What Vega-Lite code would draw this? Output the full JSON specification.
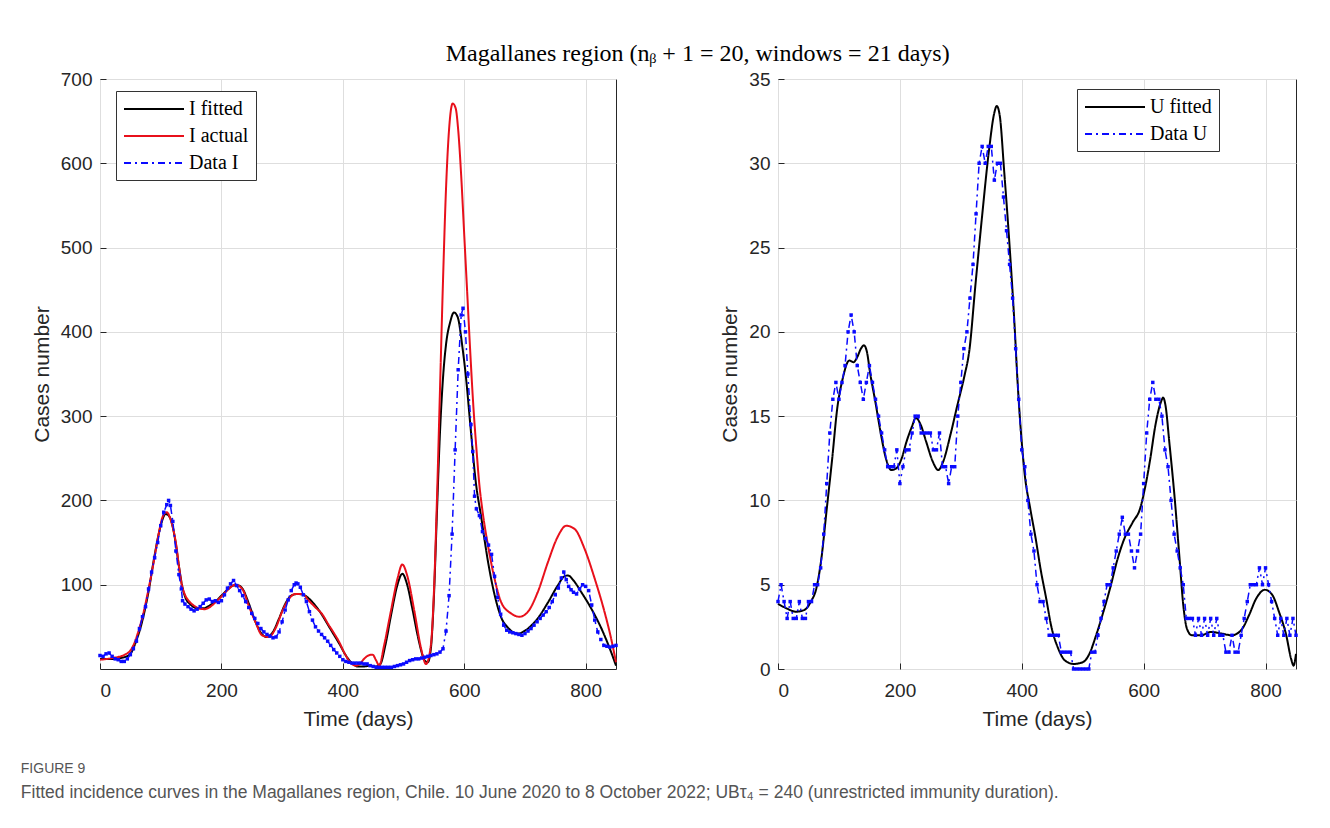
{
"$schema":"https://vega.github.io/schema/vega-lite/v6.json",
"background":"white",
"padding":{"left":20,"top":41,"right":10,"bottom":10},
"config":{
 "view":{"stroke":"#262626","strokeWidth":1},
 "axis":{"labelFont":"Liberation Sans","labelFontSize":19,"labelColor":"#262626","titleFont":"Liberation Sans","titleFontSize":21,"titleFontWeight":"normal","titleColor":"#262626","gridColor":"#dedede","gridWidth":1,"domain":false,"ticks":true,"tickSize":-6,"tickColor":"#262626"},
 "axisX":{"labelPadding":18,"titlePadding":8},
 "axisY":{"labelPadding":14,"titlePadding":8},
 "legend":{"symbolType":"M-1,0H5","symbolSize":400,"symbolStrokeWidth":2,"labelFont":"Liberation Serif","labelFontSize":20,"labelColor":"#000000","strokeColor":"#333333","fillColor":"#ffffff","padding":7,"rowPadding":6,"labelOffset":44}
},
"title":{"text":"FIGURE 9","subtitle":"Fitted incidence curves in the Magallanes region, Chile. 10 June 2020 to 8 October 2022; UBτ₄ = 240 (unrestricted immunity duration).","orient":"bottom","anchor":"start","frame":"bounds","dx":-10,"offset":32,"font":"Liberation Sans","fontSize":14,"fontWeight":"normal","color":"#555555","subtitleFont":"Liberation Sans","subtitleFontSize":17.5,"subtitleColor":"#555555","subtitlePadding":8},
"datasets":{
"left":[
{"s":"I fitted","d":0,"v":12},{"s":"I fitted","d":20,"v":12},{"s":"I fitted","d":40,"v":14},{"s":"I fitted","d":50,"v":18},{"s":"I fitted","d":60,"v":34},{"s":"I fitted","d":70,"v":58},{"s":"I fitted","d":80,"v":92},{"s":"I fitted","d":90,"v":135},{"s":"I fitted","d":100,"v":170},{"s":"I fitted","d":108,"v":184},{"s":"I fitted","d":115,"v":180},{"s":"I fitted","d":120,"v":168},{"s":"I fitted","d":125,"v":148},{"s":"I fitted","d":130,"v":122},{"s":"I fitted","d":135,"v":100},{"s":"I fitted","d":140,"v":86},{"s":"I fitted","d":150,"v":76},{"s":"I fitted","d":160,"v":72},{"s":"I fitted","d":170,"v":72},{"s":"I fitted","d":180,"v":75},{"s":"I fitted","d":190,"v":80},{"s":"I fitted","d":200,"v":87},{"s":"I fitted","d":210,"v":94},{"s":"I fitted","d":220,"v":99},{"s":"I fitted","d":228,"v":99},{"s":"I fitted","d":235,"v":95},{"s":"I fitted","d":245,"v":78},{"s":"I fitted","d":255,"v":58},{"s":"I fitted","d":265,"v":43},{"s":"I fitted","d":275,"v":38},{"s":"I fitted","d":285,"v":44},{"s":"I fitted","d":295,"v":60},{"s":"I fitted","d":305,"v":77},{"s":"I fitted","d":315,"v":87},{"s":"I fitted","d":325,"v":89},{"s":"I fitted","d":335,"v":88},{"s":"I fitted","d":345,"v":83},{"s":"I fitted","d":355,"v":75},{"s":"I fitted","d":365,"v":65},{"s":"I fitted","d":375,"v":53},{"s":"I fitted","d":385,"v":41},{"s":"I fitted","d":395,"v":29},{"s":"I fitted","d":405,"v":16},{"s":"I fitted","d":415,"v":7},{"s":"I fitted","d":425,"v":3},{"s":"I fitted","d":435,"v":3},{"s":"I fitted","d":445,"v":4},{"s":"I fitted","d":455,"v":3},{"s":"I fitted","d":462,"v":6},{"s":"I fitted","d":470,"v":28},{"s":"I fitted","d":480,"v":66},{"s":"I fitted","d":490,"v":100},{"s":"I fitted","d":498,"v":113},{"s":"I fitted","d":506,"v":100},{"s":"I fitted","d":515,"v":70},{"s":"I fitted","d":525,"v":34},{"s":"I fitted","d":535,"v":10},{"s":"I fitted","d":540,"v":8},{"s":"I fitted","d":545,"v":24},{"s":"I fitted","d":550,"v":85},{"s":"I fitted","d":555,"v":185},{"s":"I fitted","d":560,"v":280},{"s":"I fitted","d":565,"v":345},{"s":"I fitted","d":570,"v":385},{"s":"I fitted","d":577,"v":412},{"s":"I fitted","d":583,"v":423},{"s":"I fitted","d":589,"v":418},{"s":"I fitted","d":597,"v":382},{"s":"I fitted","d":603,"v":345},{"s":"I fitted","d":610,"v":290},{"s":"I fitted","d":619,"v":222},{"s":"I fitted","d":628,"v":180},{"s":"I fitted","d":639,"v":128},{"s":"I fitted","d":650,"v":88},{"s":"I fitted","d":661,"v":61},{"s":"I fitted","d":672,"v":49},{"s":"I fitted","d":688,"v":42},{"s":"I fitted","d":705,"v":48},{"s":"I fitted","d":721,"v":60},{"s":"I fitted","d":738,"v":79},{"s":"I fitted","d":754,"v":99},{"s":"I fitted","d":765,"v":110},{"s":"I fitted","d":771,"v":111},{"s":"I fitted","d":780,"v":105},{"s":"I fitted","d":793,"v":91},{"s":"I fitted","d":809,"v":72},{"s":"I fitted","d":826,"v":48},{"s":"I fitted","d":842,"v":20},{"s":"I fitted","d":850,"v":4},
{"s":"I actual","d":0,"v":11},{"s":"I actual","d":20,"v":13},{"s":"I actual","d":41,"v":17},{"s":"I actual","d":52,"v":24},{"s":"I actual","d":63,"v":44},{"s":"I actual","d":72,"v":68},{"s":"I actual","d":80,"v":95},{"s":"I actual","d":88,"v":125},{"s":"I actual","d":96,"v":158},{"s":"I actual","d":104,"v":182},{"s":"I actual","d":110,"v":186},{"s":"I actual","d":116,"v":178},{"s":"I actual","d":121,"v":165},{"s":"I actual","d":126,"v":145},{"s":"I actual","d":130,"v":122},{"s":"I actual","d":135,"v":99},{"s":"I actual","d":140,"v":88},{"s":"I actual","d":146,"v":81},{"s":"I actual","d":155,"v":75},{"s":"I actual","d":163,"v":72},{"s":"I actual","d":172,"v":71},{"s":"I actual","d":180,"v":73},{"s":"I actual","d":190,"v":79},{"s":"I actual","d":200,"v":86},{"s":"I actual","d":212,"v":95},{"s":"I actual","d":223,"v":100},{"s":"I actual","d":230,"v":98},{"s":"I actual","d":236,"v":93},{"s":"I actual","d":245,"v":75},{"s":"I actual","d":256,"v":56},{"s":"I actual","d":267,"v":40},{"s":"I actual","d":278,"v":38},{"s":"I actual","d":289,"v":48},{"s":"I actual","d":300,"v":68},{"s":"I actual","d":311,"v":83},{"s":"I actual","d":322,"v":89},{"s":"I actual","d":333,"v":89},{"s":"I actual","d":344,"v":81},{"s":"I actual","d":355,"v":73},{"s":"I actual","d":366,"v":65},{"s":"I actual","d":377,"v":52},{"s":"I actual","d":385,"v":43},{"s":"I actual","d":394,"v":32},{"s":"I actual","d":402,"v":20},{"s":"I actual","d":410,"v":10},{"s":"I actual","d":421,"v":4},{"s":"I actual","d":428,"v":6},{"s":"I actual","d":435,"v":12},{"s":"I actual","d":442,"v":16},{"s":"I actual","d":449,"v":17},{"s":"I actual","d":455,"v":10},{"s":"I actual","d":460,"v":4},{"s":"I actual","d":468,"v":28},{"s":"I actual","d":479,"v":68},{"s":"I actual","d":490,"v":107},{"s":"I actual","d":498,"v":124},{"s":"I actual","d":506,"v":111},{"s":"I actual","d":518,"v":68},{"s":"I actual","d":529,"v":24},{"s":"I actual","d":537,"v":6},{"s":"I actual","d":545,"v":28},{"s":"I actual","d":550,"v":90},{"s":"I actual","d":555,"v":200},{"s":"I actual","d":560,"v":330},{"s":"I actual","d":565,"v":460},{"s":"I actual","d":570,"v":570},{"s":"I actual","d":575,"v":640},{"s":"I actual","d":581,"v":671},{"s":"I actual","d":586,"v":665},{"s":"I actual","d":590,"v":640},{"s":"I actual","d":595,"v":585},{"s":"I actual","d":600,"v":515},{"s":"I actual","d":605,"v":445},{"s":"I actual","d":610,"v":375},{"s":"I actual","d":615,"v":312},{"s":"I actual","d":620,"v":262},{"s":"I actual","d":625,"v":218},{"s":"I actual","d":630,"v":188},{"s":"I actual","d":639,"v":147},{"s":"I actual","d":650,"v":107},{"s":"I actual","d":661,"v":79},{"s":"I actual","d":677,"v":66},{"s":"I actual","d":691,"v":62},{"s":"I actual","d":705,"v":68},{"s":"I actual","d":721,"v":91},{"s":"I actual","d":738,"v":127},{"s":"I actual","d":754,"v":157},{"s":"I actual","d":768,"v":170},{"s":"I actual","d":782,"v":166},{"s":"I actual","d":798,"v":143},{"s":"I actual","d":815,"v":107},{"s":"I actual","d":831,"v":68},{"s":"I actual","d":842,"v":36},{"s":"I actual","d":850,"v":8},
{"s":"Data I","d":0,"v":16},{"s":"Data I","d":5,"v":15},{"s":"Data I","d":10,"v":18},{"s":"Data I","d":15,"v":19},{"s":"Data I","d":20,"v":15},{"s":"Data I","d":25,"v":12},{"s":"Data I","d":30,"v":11},{"s":"Data I","d":35,"v":9},{"s":"Data I","d":40,"v":9},{"s":"Data I","d":45,"v":12},{"s":"Data I","d":50,"v":17},{"s":"Data I","d":55,"v":24},{"s":"Data I","d":60,"v":33},{"s":"Data I","d":65,"v":48},{"s":"Data I","d":70,"v":62},{"s":"Data I","d":75,"v":74},{"s":"Data I","d":80,"v":95},{"s":"Data I","d":85,"v":115},{"s":"Data I","d":90,"v":132},{"s":"Data I","d":95,"v":150},{"s":"Data I","d":100,"v":170},{"s":"Data I","d":105,"v":186},{"s":"Data I","d":110,"v":195},{"s":"Data I","d":113,"v":200},{"s":"Data I","d":116,"v":194},{"s":"Data I","d":120,"v":175},{"s":"Data I","d":125,"v":140},{"s":"Data I","d":130,"v":112},{"s":"Data I","d":134,"v":95},{"s":"Data I","d":136,"v":81},{"s":"Data I","d":140,"v":77},{"s":"Data I","d":145,"v":74},{"s":"Data I","d":150,"v":71},{"s":"Data I","d":155,"v":69},{"s":"Data I","d":160,"v":71},{"s":"Data I","d":165,"v":74},{"s":"Data I","d":170,"v":78},{"s":"Data I","d":175,"v":82},{"s":"Data I","d":180,"v":83},{"s":"Data I","d":185,"v":80},{"s":"Data I","d":190,"v":81},{"s":"Data I","d":195,"v":79},{"s":"Data I","d":200,"v":81},{"s":"Data I","d":205,"v":88},{"s":"Data I","d":210,"v":96},{"s":"Data I","d":215,"v":101},{"s":"Data I","d":220,"v":105},{"s":"Data I","d":225,"v":99},{"s":"Data I","d":230,"v":93},{"s":"Data I","d":235,"v":87},{"s":"Data I","d":240,"v":80},{"s":"Data I","d":245,"v":73},{"s":"Data I","d":250,"v":66},{"s":"Data I","d":255,"v":60},{"s":"Data I","d":260,"v":54},{"s":"Data I","d":265,"v":48},{"s":"Data I","d":270,"v":44},{"s":"Data I","d":275,"v":41},{"s":"Data I","d":280,"v":39},{"s":"Data I","d":285,"v":37},{"s":"Data I","d":290,"v":38},{"s":"Data I","d":295,"v":44},{"s":"Data I","d":300,"v":56},{"s":"Data I","d":305,"v":70},{"s":"Data I","d":310,"v":82},{"s":"Data I","d":315,"v":93},{"s":"Data I","d":320,"v":100},{"s":"Data I","d":323,"v":102},{"s":"Data I","d":326,"v":101},{"s":"Data I","d":330,"v":97},{"s":"Data I","d":335,"v":88},{"s":"Data I","d":340,"v":80},{"s":"Data I","d":345,"v":68},{"s":"Data I","d":350,"v":58},{"s":"Data I","d":355,"v":50},{"s":"Data I","d":360,"v":45},{"s":"Data I","d":365,"v":41},{"s":"Data I","d":370,"v":37},{"s":"Data I","d":375,"v":33},{"s":"Data I","d":380,"v":28},{"s":"Data I","d":385,"v":23},{"s":"Data I","d":390,"v":19},{"s":"Data I","d":395,"v":15},{"s":"Data I","d":400,"v":11},{"s":"Data I","d":405,"v":9},{"s":"Data I","d":410,"v":8},{"s":"Data I","d":415,"v":7},{"s":"Data I","d":420,"v":7},{"s":"Data I","d":425,"v":7},{"s":"Data I","d":430,"v":7},{"s":"Data I","d":435,"v":6},{"s":"Data I","d":440,"v":6},{"s":"Data I","d":445,"v":4},{"s":"Data I","d":450,"v":3},{"s":"Data I","d":455,"v":2},{"s":"Data I","d":460,"v":2},{"s":"Data I","d":465,"v":2},{"s":"Data I","d":470,"v":2},{"s":"Data I","d":475,"v":2},{"s":"Data I","d":480,"v":2},{"s":"Data I","d":485,"v":3},{"s":"Data I","d":490,"v":4},{"s":"Data I","d":495,"v":5},{"s":"Data I","d":500,"v":6},{"s":"Data I","d":505,"v":8},{"s":"Data I","d":510,"v":10},{"s":"Data I","d":515,"v":11},{"s":"Data I","d":520,"v":12},{"s":"Data I","d":525,"v":12},{"s":"Data I","d":530,"v":13},{"s":"Data I","d":535,"v":14},{"s":"Data I","d":540,"v":15},{"s":"Data I","d":545,"v":16},{"s":"Data I","d":550,"v":17},{"s":"Data I","d":555,"v":18},{"s":"Data I","d":560,"v":20},{"s":"Data I","d":565,"v":24},{"s":"Data I","d":570,"v":45},{"s":"Data I","d":575,"v":87},{"s":"Data I","d":580,"v":160},{"s":"Data I","d":585,"v":260},{"s":"Data I","d":590,"v":355},{"s":"Data I","d":595,"v":420},{"s":"Data I","d":598,"v":428},{"s":"Data I","d":602,"v":400},{"s":"Data I","d":606,"v":350},{"s":"Data I","d":611,"v":290},{"s":"Data I","d":614,"v":258},{"s":"Data I","d":617,"v":205},{"s":"Data I","d":620,"v":190},{"s":"Data I","d":625,"v":182},{"s":"Data I","d":630,"v":163},{"s":"Data I","d":635,"v":155},{"s":"Data I","d":640,"v":147},{"s":"Data I","d":645,"v":136},{"s":"Data I","d":650,"v":110},{"s":"Data I","d":655,"v":85},{"s":"Data I","d":660,"v":65},{"s":"Data I","d":665,"v":52},{"s":"Data I","d":670,"v":46},{"s":"Data I","d":675,"v":44},{"s":"Data I","d":680,"v":43},{"s":"Data I","d":685,"v":42},{"s":"Data I","d":690,"v":41},{"s":"Data I","d":695,"v":40},{"s":"Data I","d":700,"v":42},{"s":"Data I","d":705,"v":45},{"s":"Data I","d":710,"v":48},{"s":"Data I","d":715,"v":52},{"s":"Data I","d":720,"v":56},{"s":"Data I","d":725,"v":60},{"s":"Data I","d":730,"v":64},{"s":"Data I","d":735,"v":68},{"s":"Data I","d":740,"v":73},{"s":"Data I","d":745,"v":80},{"s":"Data I","d":750,"v":88},{"s":"Data I","d":755,"v":96},{"s":"Data I","d":760,"v":108},{"s":"Data I","d":764,"v":115},{"s":"Data I","d":768,"v":106},{"s":"Data I","d":772,"v":98},{"s":"Data I","d":776,"v":94},{"s":"Data I","d":780,"v":91},{"s":"Data I","d":785,"v":89},{"s":"Data I","d":790,"v":95},{"s":"Data I","d":795,"v":100},{"s":"Data I","d":800,"v":98},{"s":"Data I","d":805,"v":93},{"s":"Data I","d":810,"v":76},{"s":"Data I","d":815,"v":58},{"s":"Data I","d":820,"v":44},{"s":"Data I","d":825,"v":35},{"s":"Data I","d":830,"v":28},{"s":"Data I","d":835,"v":27},{"s":"Data I","d":840,"v":26},{"s":"Data I","d":845,"v":27},{"s":"Data I","d":850,"v":28}
],
"right":[
{"s":"U fitted","d":0,"v":3.87},{"s":"U fitted","d":15,"v":3.58},{"s":"U fitted","d":29,"v":3.4},{"s":"U fitted","d":43,"v":3.5},{"s":"U fitted","d":54,"v":4.0},{"s":"U fitted","d":63,"v":4.8},{"s":"U fitted","d":71,"v":6.5},{"s":"U fitted","d":80,"v":9.5},{"s":"U fitted","d":89,"v":12.5},{"s":"U fitted","d":97,"v":15.4},{"s":"U fitted","d":106,"v":17.2},{"s":"U fitted","d":117,"v":18.3},{"s":"U fitted","d":124,"v":18.2},{"s":"U fitted","d":130,"v":18.5},{"s":"U fitted","d":136,"v":19.0},{"s":"U fitted","d":141,"v":19.2},{"s":"U fitted","d":146,"v":18.8},{"s":"U fitted","d":151,"v":17.6},{"s":"U fitted","d":160,"v":15.8},{"s":"U fitted","d":169,"v":13.9},{"s":"U fitted","d":177,"v":12.5},{"s":"U fitted","d":186,"v":11.8},{"s":"U fitted","d":194,"v":11.9},{"s":"U fitted","d":203,"v":12.5},{"s":"U fitted","d":211,"v":13.5},{"s":"U fitted","d":220,"v":14.4},{"s":"U fitted","d":226,"v":14.9},{"s":"U fitted","d":234,"v":14.5},{"s":"U fitted","d":243,"v":13.5},{"s":"U fitted","d":254,"v":12.3},{"s":"U fitted","d":263,"v":11.8},{"s":"U fitted","d":271,"v":12.3},{"s":"U fitted","d":283,"v":13.9},{"s":"U fitted","d":294,"v":15.6},{"s":"U fitted","d":306,"v":17.4},{"s":"U fitted","d":314,"v":18.9},{"s":"U fitted","d":324,"v":22.8},{"s":"U fitted","d":335,"v":26.9},{"s":"U fitted","d":346,"v":30.7},{"s":"U fitted","d":355,"v":33.0},{"s":"U fitted","d":359,"v":33.4},{"s":"U fitted","d":364,"v":32.8},{"s":"U fitted","d":371,"v":29.6},{"s":"U fitted","d":380,"v":25.1},{"s":"U fitted","d":388,"v":20.5},{"s":"U fitted","d":393,"v":17.1},{"s":"U fitted","d":402,"v":12.6},{"s":"U fitted","d":405,"v":11.5},{"s":"U fitted","d":414,"v":9.5},{"s":"U fitted","d":423,"v":7.7},{"s":"U fitted","d":431,"v":5.9},{"s":"U fitted","d":440,"v":4.2},{"s":"U fitted","d":448,"v":2.6},{"s":"U fitted","d":460,"v":1.2},{"s":"U fitted","d":471,"v":0.5},{"s":"U fitted","d":485,"v":0.3},{"s":"U fitted","d":500,"v":0.4},{"s":"U fitted","d":511,"v":0.9},{"s":"U fitted","d":522,"v":2.0},{"s":"U fitted","d":534,"v":3.4},{"s":"U fitted","d":545,"v":4.8},{"s":"U fitted","d":557,"v":6.5},{"s":"U fitted","d":568,"v":7.7},{"s":"U fitted","d":582,"v":8.7},{"s":"U fitted","d":594,"v":9.5},{"s":"U fitted","d":602,"v":10.7},{"s":"U fitted","d":611,"v":12.5},{"s":"U fitted","d":619,"v":14.4},{"s":"U fitted","d":628,"v":15.8},{"s":"U fitted","d":632,"v":16.1},{"s":"U fitted","d":636,"v":15.6},{"s":"U fitted","d":642,"v":13.5},{"s":"U fitted","d":651,"v":10.1},{"s":"U fitted","d":659,"v":6.5},{"s":"U fitted","d":665,"v":3.8},{"s":"U fitted","d":671,"v":2.4},{"s":"U fitted","d":679,"v":2.0},{"s":"U fitted","d":694,"v":2.0},{"s":"U fitted","d":711,"v":2.2},{"s":"U fitted","d":728,"v":2.1},{"s":"U fitted","d":745,"v":2.0},{"s":"U fitted","d":762,"v":2.4},{"s":"U fitted","d":773,"v":3.2},{"s":"U fitted","d":785,"v":4.2},{"s":"U fitted","d":799,"v":4.7},{"s":"U fitted","d":811,"v":4.4},{"s":"U fitted","d":822,"v":3.4},{"s":"U fitted","d":834,"v":2.0},{"s":"U fitted","d":842,"v":0.6},{"s":"U fitted","d":846,"v":0.2},{"s":"U fitted","d":850,"v":0.9},
{"s":"Data U","d":0,"v":4},{"s":"Data U","d":5,"v":5},{"s":"Data U","d":10,"v":4},{"s":"Data U","d":15,"v":3},{"s":"Data U","d":20,"v":4},{"s":"Data U","d":25,"v":3},{"s":"Data U","d":30,"v":3},{"s":"Data U","d":35,"v":4},{"s":"Data U","d":40,"v":3},{"s":"Data U","d":45,"v":3},{"s":"Data U","d":50,"v":4},{"s":"Data U","d":55,"v":4},{"s":"Data U","d":60,"v":5},{"s":"Data U","d":65,"v":5},{"s":"Data U","d":70,"v":6},{"s":"Data U","d":75,"v":8},{"s":"Data U","d":80,"v":11},{"s":"Data U","d":85,"v":14},{"s":"Data U","d":90,"v":16},{"s":"Data U","d":95,"v":17},{"s":"Data U","d":100,"v":16},{"s":"Data U","d":105,"v":17},{"s":"Data U","d":110,"v":18},{"s":"Data U","d":115,"v":20},{"s":"Data U","d":120,"v":21},{"s":"Data U","d":125,"v":20},{"s":"Data U","d":130,"v":18},{"s":"Data U","d":135,"v":17},{"s":"Data U","d":140,"v":16},{"s":"Data U","d":145,"v":17},{"s":"Data U","d":150,"v":18},{"s":"Data U","d":155,"v":17},{"s":"Data U","d":160,"v":16},{"s":"Data U","d":165,"v":15},{"s":"Data U","d":170,"v":14},{"s":"Data U","d":175,"v":13},{"s":"Data U","d":180,"v":12},{"s":"Data U","d":185,"v":12},{"s":"Data U","d":190,"v":12},{"s":"Data U","d":195,"v":13},{"s":"Data U","d":200,"v":11},{"s":"Data U","d":205,"v":12},{"s":"Data U","d":210,"v":13},{"s":"Data U","d":215,"v":13},{"s":"Data U","d":220,"v":14},{"s":"Data U","d":225,"v":15},{"s":"Data U","d":230,"v":15},{"s":"Data U","d":235,"v":14},{"s":"Data U","d":240,"v":14},{"s":"Data U","d":245,"v":14},{"s":"Data U","d":250,"v":14},{"s":"Data U","d":255,"v":13},{"s":"Data U","d":260,"v":13},{"s":"Data U","d":265,"v":14},{"s":"Data U","d":270,"v":12},{"s":"Data U","d":275,"v":12},{"s":"Data U","d":280,"v":11},{"s":"Data U","d":285,"v":12},{"s":"Data U","d":290,"v":12},{"s":"Data U","d":295,"v":15},{"s":"Data U","d":300,"v":17},{"s":"Data U","d":305,"v":19},{"s":"Data U","d":310,"v":20},{"s":"Data U","d":315,"v":22},{"s":"Data U","d":320,"v":24},{"s":"Data U","d":325,"v":27},{"s":"Data U","d":330,"v":30},{"s":"Data U","d":335,"v":31},{"s":"Data U","d":340,"v":30},{"s":"Data U","d":345,"v":31},{"s":"Data U","d":350,"v":31},{"s":"Data U","d":355,"v":29},{"s":"Data U","d":360,"v":30},{"s":"Data U","d":365,"v":30},{"s":"Data U","d":370,"v":28},{"s":"Data U","d":375,"v":26},{"s":"Data U","d":380,"v":24},{"s":"Data U","d":385,"v":22},{"s":"Data U","d":390,"v":19},{"s":"Data U","d":395,"v":16},{"s":"Data U","d":400,"v":13},{"s":"Data U","d":405,"v":12},{"s":"Data U","d":410,"v":10},{"s":"Data U","d":415,"v":8},{"s":"Data U","d":420,"v":7},{"s":"Data U","d":425,"v":5},{"s":"Data U","d":430,"v":4},{"s":"Data U","d":435,"v":4},{"s":"Data U","d":440,"v":3},{"s":"Data U","d":445,"v":2},{"s":"Data U","d":450,"v":2},{"s":"Data U","d":455,"v":2},{"s":"Data U","d":460,"v":2},{"s":"Data U","d":465,"v":1},{"s":"Data U","d":470,"v":1},{"s":"Data U","d":475,"v":1},{"s":"Data U","d":480,"v":1},{"s":"Data U","d":485,"v":0},{"s":"Data U","d":490,"v":0},{"s":"Data U","d":495,"v":0},{"s":"Data U","d":500,"v":0},{"s":"Data U","d":505,"v":0},{"s":"Data U","d":510,"v":0},{"s":"Data U","d":515,"v":1},{"s":"Data U","d":520,"v":1},{"s":"Data U","d":525,"v":2},{"s":"Data U","d":530,"v":3},{"s":"Data U","d":535,"v":4},{"s":"Data U","d":540,"v":5},{"s":"Data U","d":545,"v":5},{"s":"Data U","d":550,"v":6},{"s":"Data U","d":555,"v":7},{"s":"Data U","d":560,"v":8},{"s":"Data U","d":565,"v":9},{"s":"Data U","d":570,"v":8},{"s":"Data U","d":575,"v":8},{"s":"Data U","d":580,"v":7},{"s":"Data U","d":585,"v":6},{"s":"Data U","d":590,"v":7},{"s":"Data U","d":595,"v":8},{"s":"Data U","d":600,"v":11},{"s":"Data U","d":605,"v":14},{"s":"Data U","d":610,"v":16},{"s":"Data U","d":615,"v":17},{"s":"Data U","d":620,"v":16},{"s":"Data U","d":625,"v":16},{"s":"Data U","d":630,"v":15},{"s":"Data U","d":635,"v":13},{"s":"Data U","d":640,"v":12},{"s":"Data U","d":645,"v":10},{"s":"Data U","d":650,"v":8},{"s":"Data U","d":655,"v":7},{"s":"Data U","d":660,"v":6},{"s":"Data U","d":665,"v":5},{"s":"Data U","d":670,"v":3},{"s":"Data U","d":675,"v":3},{"s":"Data U","d":680,"v":3},{"s":"Data U","d":685,"v":2},{"s":"Data U","d":690,"v":3},{"s":"Data U","d":695,"v":2},{"s":"Data U","d":700,"v":3},{"s":"Data U","d":705,"v":2},{"s":"Data U","d":710,"v":3},{"s":"Data U","d":715,"v":2},{"s":"Data U","d":720,"v":3},{"s":"Data U","d":725,"v":2},{"s":"Data U","d":730,"v":2},{"s":"Data U","d":735,"v":1},{"s":"Data U","d":740,"v":1},{"s":"Data U","d":745,"v":2},{"s":"Data U","d":750,"v":1},{"s":"Data U","d":755,"v":1},{"s":"Data U","d":760,"v":2},{"s":"Data U","d":765,"v":3},{"s":"Data U","d":770,"v":4},{"s":"Data U","d":775,"v":5},{"s":"Data U","d":780,"v":5},{"s":"Data U","d":785,"v":5},{"s":"Data U","d":790,"v":6},{"s":"Data U","d":795,"v":5},{"s":"Data U","d":800,"v":6},{"s":"Data U","d":805,"v":5},{"s":"Data U","d":810,"v":4},{"s":"Data U","d":815,"v":3},{"s":"Data U","d":820,"v":2},{"s":"Data U","d":825,"v":3},{"s":"Data U","d":830,"v":2},{"s":"Data U","d":835,"v":3},{"s":"Data U","d":840,"v":2},{"s":"Data U","d":845,"v":3},{"s":"Data U","d":850,"v":2}
]
},
"vconcat":[
{
 "title":{"text":"Magallanes region (nᵦ + 1 = 20, windows = 21 days)","anchor":"middle","frame":"bounds","dx":32,"font":"Liberation Serif","fontSize":24,"fontWeight":"normal","color":"#000000","offset":4},
 "bounds":"flush",
 "spacing":162,
 "resolve":{"scale":{"x":"independent","y":"independent","color":"independent","strokeDash":"independent"},"legend":{"color":"independent","strokeDash":"independent"}},
 "hconcat":[
  {
   "width":516,"height":590,
   "data":{"name":"left"},
   "encoding":{
    "x":{"field":"d","type":"quantitative","scale":{"domain":[0,850],"nice":false},"axis":{"values":[0,200,400,600,800],"title":"Time (days)"}},
    "y":{"field":"v","type":"quantitative","scale":{"domain":[0,700],"nice":false},"axis":{"values":[100,200,300,400,500,600,700],"title":"Cases number"}}
   },
   "layer":[
    {"transform":[{"filter":"datum.s === 'I fitted'"}],"mark":{"type":"line","strokeWidth":2,"interpolate":"monotone"},
     "encoding":{"color":{"field":"s","type":"nominal","scale":{"domain":["I fitted","I actual","Data I"],"range":["#000000","#e8101b","#0a0aff"]},"legend":{"orient":"none","legendX":16,"legendY":12,"title":null}},
                 "strokeDash":{"field":"s","type":"nominal","scale":{"domain":["I fitted","I actual","Data I"],"range":[[1,0],[1,0],[7,4,2,4]]},"legend":{"orient":"none","legendX":16,"legendY":12,"title":null}}}},
    {"transform":[{"filter":"datum.s === 'I actual'"}],"mark":{"type":"line","strokeWidth":2,"interpolate":"monotone"},
     "encoding":{"color":{"field":"s","type":"nominal"},"strokeDash":{"field":"s","type":"nominal"}}},
    {"transform":[{"filter":"datum.s === 'Data I'"}],"mark":{"type":"line","strokeWidth":1.5},
     "encoding":{"color":{"field":"s","type":"nominal"},"strokeDash":{"field":"s","type":"nominal"}}},
    {"transform":[{"filter":"datum.s === 'Data I'"}],"mark":{"type":"point","shape":"square","filled":true,"size":12,"color":"#0a0aff","opacity":1}}
   ]
  },
  {
   "width":518,"height":590,
   "data":{"name":"right"},
   "encoding":{
    "x":{"field":"d","type":"quantitative","scale":{"domain":[0,850],"nice":false},"axis":{"values":[0,200,400,600,800],"title":"Time (days)"}},
    "y":{"field":"v","type":"quantitative","scale":{"domain":[0,35],"nice":false},"axis":{"values":[0,5,10,15,20,25,30,35],"title":"Cases number"}}
   },
   "layer":[
    {"transform":[{"filter":"datum.s === 'U fitted'"}],"mark":{"type":"line","strokeWidth":2,"interpolate":"monotone"},
     "encoding":{"color":{"field":"s","type":"nominal","scale":{"domain":["U fitted","Data U"],"range":["#000000","#0a0aff"]},"legend":{"orient":"none","legendX":299,"legendY":10,"title":null}},
                 "strokeDash":{"field":"s","type":"nominal","scale":{"domain":["U fitted","Data U"],"range":[[1,0],[7,4,2,4]]},"legend":{"orient":"none","legendX":299,"legendY":10,"title":null}}}},
    {"transform":[{"filter":"datum.s === 'Data U'"}],"mark":{"type":"line","strokeWidth":1.5},
     "encoding":{"color":{"field":"s","type":"nominal"},"strokeDash":{"field":"s","type":"nominal"}}},
    {"transform":[{"filter":"datum.s === 'Data U'"}],"mark":{"type":"point","shape":"square","filled":true,"size":12,"color":"#0a0aff","opacity":1}}
   ]
  }
 ]
}
]
}
